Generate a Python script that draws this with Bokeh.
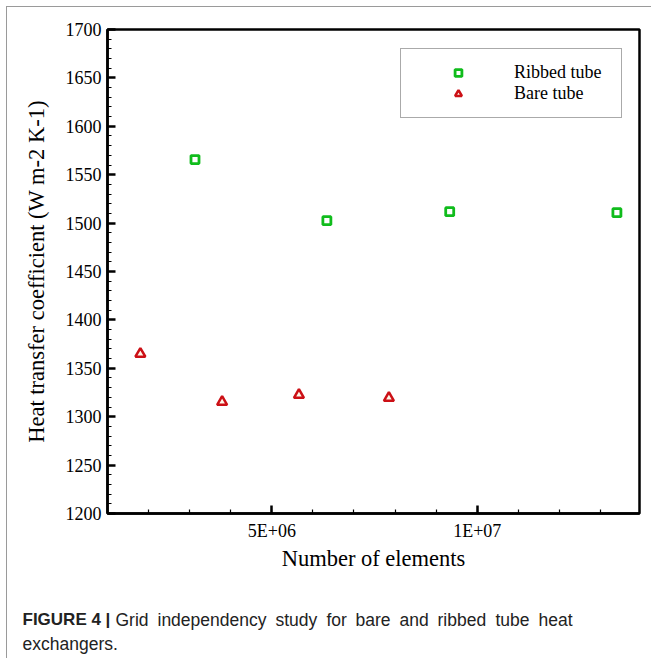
from bokeh.plotting import figure
from bokeh.layouts import column
from bokeh.models import Range1d, Legend, LegendItem, FixedTicker
from bokeh.core.properties import value
from bokeh.embed import file_html
from bokeh.resources import INLINE

# ---- data ----
ribbed_x = [3.13e6, 6.34e6, 9.33e6, 13.4e6]
ribbed_y = [1565.6, 1502.5, 1511.8, 1510.8]
bare_x = [1.80e6, 3.79e6, 5.66e6, 7.85e6]
bare_y = [1365.0, 1315.3, 1322.5, 1319.4]

x_major_ticks = [5000000, 10000000]
x_tick_labels = ["5E+06", "1E+07"]
x_minor_ticks = [m * 1000000 for m in range(1, 15)]
y_major_ticks = list(range(1200, 1701, 50))
y_minor_ticks = list(range(1200, 1701, 10))

caption_bold = "FIGURE 4 |"
caption_words = ["Grid", "independency", "study", "for", "bare", "and", "ribbed", "tube", "heat"]
caption_word_x = [108, 150, 268, 319, 348, 392, 430, 488, 531]   # justified line, pixels
caption_line2 = "exchangers."

SERIF = "Liberation Serif"
SANS = "Liberation Sans"

W = 644
H_MAIN = 574
H_CAP = 77

p = figure(width=W, height=H_MAIN, output_backend="svg", toolbar_location=None,
           x_range=Range1d(1.0e6, 13.95e6), y_range=Range1d(1200, 1700),
           min_border_left=100, min_border_right=12, min_border_top=22, min_border_bottom=68)
p.frame_align = False
p.background_fill_color = "white"
p.border_fill_color = "white"
p.outline_line_color = "black"
p.outline_line_width = 2.5
p.xgrid.visible = False
p.ygrid.visible = False

for ax in (p.xaxis[0], p.yaxis[0]):
    ax.axis_line_color = "black"
    ax.axis_line_width = 2.5
    ax.major_tick_in = 8
    ax.major_tick_out = 0
    ax.minor_tick_in = 4
    ax.minor_tick_out = 0
    ax.major_tick_line_width = 2.5
    ax.minor_tick_line_width = 1.2
    ax.major_tick_line_color = "black"
    ax.minor_tick_line_color = "black"
    ax.major_label_text_font = SERIF
    ax.major_label_text_font_size = "18px"
    ax.major_label_text_color = "black"
    ax.axis_label_text_font = SERIF
    ax.axis_label_text_font_style = "normal"
    ax.axis_label_text_font_size = "22.5px"
    ax.axis_label_text_color = "black"

p.xaxis[0].ticker = FixedTicker(ticks=x_major_ticks, minor_ticks=x_minor_ticks)
p.xaxis[0].major_label_overrides = dict(zip(x_major_ticks, x_tick_labels))
p.xaxis[0].major_label_standoff = 7
p.xaxis[0].axis_label = "Number of elements"
p.xaxis[0].axis_label_standoff = 2

p.yaxis[0].ticker = FixedTicker(ticks=y_major_ticks, minor_ticks=y_minor_ticks)
p.yaxis[0].major_label_standoff = 6
p.yaxis[0].axis_label = "Heat transfer coefficient (W m-2 K-1)"
p.yaxis[0].axis_label_standoff = 14

r_ribbed = p.scatter(ribbed_x, ribbed_y, marker="square", size=8,
                     fill_color="white", line_color="#10bc1c", line_width=2.8)
r_bare = p.scatter(bare_x, bare_y, marker="triangle", size=10,
                   fill_color="#fff6e8", line_color="#cc1016", line_width=2.5)

legend = Legend(items=[LegendItem(label="Ribbed tube", renderers=[r_ribbed]),
                       LegendItem(label="Bare tube", renderers=[r_bare])],
                location=(293, 395))
legend.padding = 13
legend.margin = 0
legend.spacing = 0
legend.glyph_width = 88
legend.glyph_height = 17
legend.label_height = 17
legend.label_width = 94
legend.label_standoff = 12
legend.label_text_font = SERIF
legend.label_text_font_size = "18px"
legend.label_text_color = "black"
legend.border_line_color = "#555555"
legend.border_line_width = 1
legend.background_fill_color = "white"
legend.background_fill_alpha = 1
p.add_layout(legend, "center")

# caption panel
cap = figure(width=W, height=H_CAP, output_backend="svg", toolbar_location=None,
             x_range=Range1d(0, W), y_range=Range1d(H_CAP, 0),
             min_border=0, min_border_left=0, min_border_right=0,
             min_border_top=0, min_border_bottom=0)
cap.frame_align = False
cap.axis.visible = False
cap.grid.visible = False
cap.outline_line_color = None
cap.background_fill_color = "white"
cap.border_fill_color = "white"
cap.text(x=[15], y=[38], text=[caption_bold], text_font=value(SANS), text_font_style="bold",
         text_font_size="17px", text_color="#222222", text_baseline="alphabetic")
cap.text(x=caption_word_x, y=[38] * len(caption_words), text=caption_words, text_font=value(SANS),
         text_font_size="17.5px", text_color="#222222", text_baseline="alphabetic")
cap.text(x=[15], y=[62], text=[caption_line2], text_font=value(SANS),
         text_font_size="17.5px", text_color="#222222", text_baseline="alphabetic")

layout = column(p, cap, spacing=0, margin=(6, 0, 0, 6),
                styles={"border-left": "1px solid #9a9a9a", "border-top": "1px solid #9a9a9a"})

open("out.html", "w").write(file_html(layout, INLINE))
